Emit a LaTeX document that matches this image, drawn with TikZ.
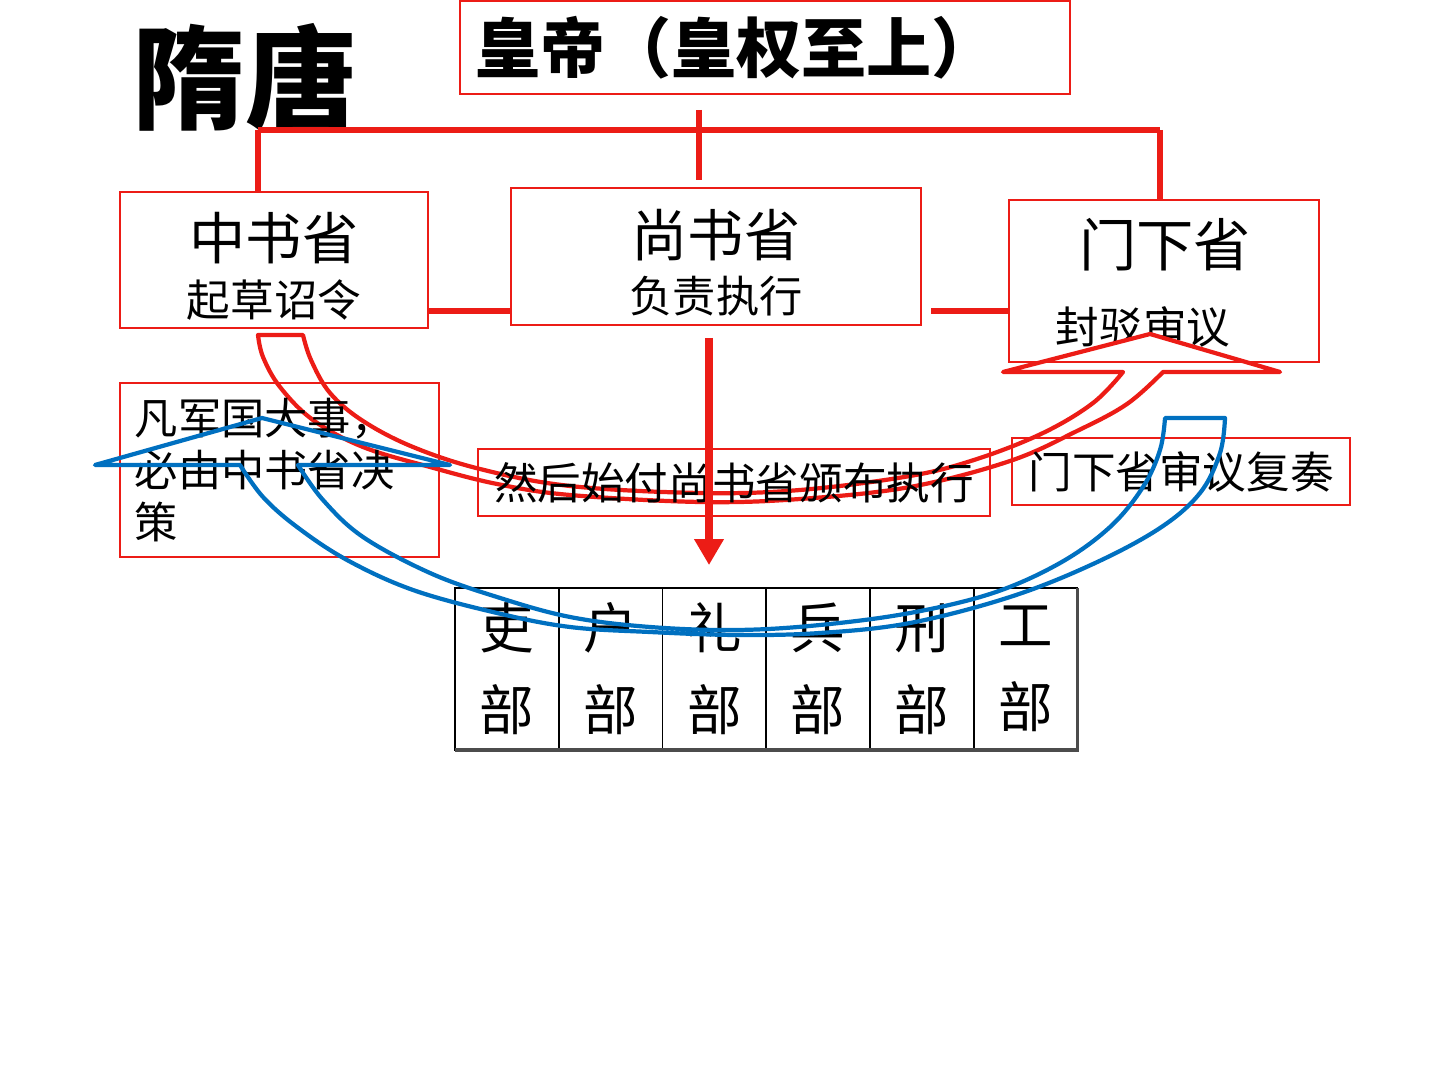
\documentclass[tikz,border=0pt]{standalone}
\usepackage{fontspec}
\setmainfont{Noto Sans CJK SC}
\usepackage{tikz}
\usetikzlibrary{positioning,arrows.meta}
\definecolor{hong}{RGB}{236,28,22}
\definecolor{lan}{RGB}{0,112,192}
\newcommand{\zihao}[2]{\fontsize{#1}{#2}\selectfont}

\begin{document}
\begin{tikzpicture}[
  x=0.01cm, y=-0.01cm,
  every node/.style={font=\zihao{12.4pt}{14.8pt}, inner sep=0pt},
  redbox/.style={rectangle, draw=hong, line width=0.5pt, text centered},
  cell/.style={rectangle, draw=black, line width=0.5pt, outer sep=0pt,
    minimum width=1.037cm, minimum height=1.62cm, align=center,
    font=\zihao{15.5pt}{23.3pt}},
  treeline/.style={draw=hong, line width=1.6pt},
  bandline/.style={line width=1.2pt, line join=round}
]
  \useasboundingbox (0,0) rectangle (1440,1080);

  \node[font=\bfseries\zihao{32pt}{32pt}] (suitang) at (245,78) {隋唐};
  \node[redbox, anchor=north west, minimum height=0.93cm, text width=5.78cm,
        inner xsep=0.16cm, align=left, font=\bfseries\zihao{18.5pt}{20pt}]
        (huangdi) at (459,0) {皇帝（皇权至上）};

  \node[redbox, minimum width=3.08cm, minimum height=1.36cm, align=center,
        font=\zihao{12.4pt}{16pt}] (zhongshu) at (274,260)
        {\rule{0pt}{17pt}{\zihao{16pt}{16pt}中书省}\\起草诏令};
  \node[redbox, minimum width=4.1cm, minimum height=1.37cm, align=center,
        font=\zihao{12.3pt}{16pt}] (shangshu) at (716,256.5)
        {\rule{0pt}{17pt}{\zihao{16pt}{16pt}尚书省}\\负责执行};
  \node (fengbo) at (1143,327) {封驳审议};

  \draw[hong, bandline, fill=white] (258,335) -- (303,335)
    -- plot[smooth, tension=0.6] coordinates {(303,335) (311,360) (330,393)
       (363,421) (413,447) (480,469) (570,486) (700,493) (800,490) (910,476)
       (977,459) (1043,433) (1093,403) (1123,372)}
    -- (1003,372) -- (1150,334) -- (1280,372) -- (1163,372)
    -- plot[smooth, tension=0.6] coordinates {(1163,372) (1127,404) (1077,431)
       (1010,461) (910,487) (800,499) (700,502) (570,495) (497,484) (430,467)
       (363,447) (313,420) (280,387) (263,357) (258,335)}
    -- cycle;

  \node[redbox, minimum width=3.1cm, minimum height=1.62cm] (menxia) at (1164,281) {};
  \node[font=\zihao{16.3pt}{16pt}] (menxiat) at (1165,245) {门下省};

  \node[redbox, minimum height=1.74cm, text width=2.89cm, inner xsep=0.15cm,
        align=left, font=\zihao{12.3pt}{14.8pt}] (fanjun) at (279.5,470)
        {凡军国大事，\\必由中书省决\\策};
  \node[redbox, minimum width=5.12cm, minimum height=0.67cm] (ranhou) at (734,482.5)
        {然后始付尚书省颁布执行};
  \node[redbox, minimum width=3.38cm, minimum height=0.67cm] (fuzou) at (1181,471.5)
        {门下省审议复奏};

  \node[cell] (bu1) at (506.8,669) {吏\\部};
  \node[cell, right=0pt of bu1] (bu2) {户\\部};
  \node[cell, right=0pt of bu2] (bu3) {礼\\部};
  \node[cell, right=0pt of bu3] (bu4) {兵\\部};
  \node[cell, right=0pt of bu4] (bu5) {刑\\部};
  \node[cell, right=0pt of bu5] (bu6) {工\\部};
  \draw[line width=1pt, black!70] (bu1.south west) -- (bu6.south east) -- (bu6.north east);

  \coordinate (lbar) at (258,130);
  \coordinate (rbar) at (1160,130);
  \coordinate (hub) at (699,110);
  \coordinate (hubend) at (699,180);
  \coordinate (lk) at (0,311);
  \draw[treeline] (lbar) -- (rbar);
  \draw[treeline] (hub) -- (hubend);
  \draw[treeline] (lbar) -- (lbar |- zhongshu.north);
  \draw[treeline] (rbar) -- (rbar |- menxia.north);
  \draw[treeline] (zhongshu.east |- lk) -- (shangshu.west |- lk);
  \draw[treeline, shorten <=2.6pt] (shangshu.east |- lk) -- (menxia.west |- lk);

  \coordinate (ax) at (709,0);
  \draw[hong, line width=2pt, -{Triangle[width=8pt,length=7.4pt]},
        shorten <=3.4pt, shorten >=6.5pt] (ax |- shangshu.south) -- (ax |- bu1.north);

  \draw[lan, bandline] (1165,418) -- (1225,418)
    -- plot[smooth, tension=0.6] coordinates {(1225,418) (1220,453) (1200,493)
       (1160,528) (1093,564) (1010,597) (910,623) (820,633) (737,635) (650,632)
       (570,627) (497,613) (413,590) (347,560) (297,527) (263,497) (240,465)}
    -- (95,465) -- (262,418) -- (450,465) -- (298,465)
    -- plot[smooth, tension=0.6] coordinates {(298,465) (323,500) (363,537)
       (430,573) (497,597) (570,617) (650,627) (737,630) (820,625) (910,613)
       (993,593) (1060,563) (1110,527) (1143,487) (1160,450) (1165,418)}
    -- cycle;
\end{tikzpicture}
\end{document}
